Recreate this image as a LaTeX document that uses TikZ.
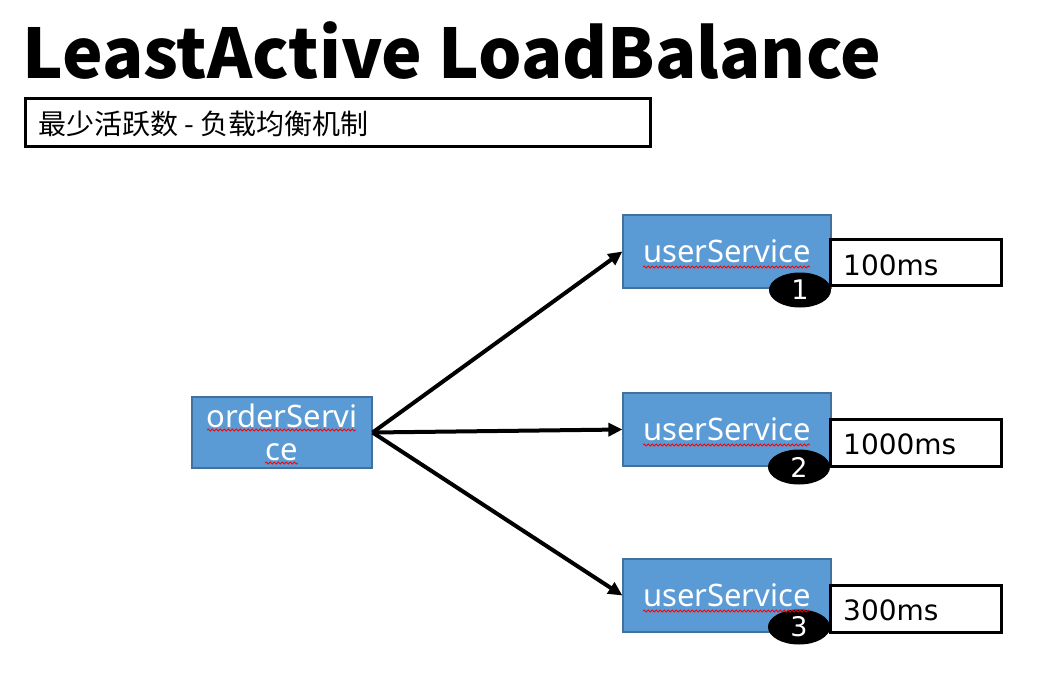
\documentclass[tikz,border=0pt]{standalone}
\usepackage{fontspec}
\setmainfont{DejaVu Sans}
\newfontfamily\cjk{Noto Sans CJK SC}
\newfontfamily\notosans{Noto Sans}
\usetikzlibrary{arrows.meta,shapes.geometric,decorations.pathmorphing}
\definecolor{boxblue}{HTML}{5B9BD5}
\definecolor{boxedge}{HTML}{41719C}
\tikzset{
  svc/.style={draw=boxedge, line width=1.2pt, fill=boxblue, text=white, minimum width=208pt, minimum height=73pt, inner sep=0pt, font=\notosans\fontsize{31}{34}\selectfont},
  lbl/.style={draw=black, line width=3pt, fill=white, minimum width=171pt, minimum height=46pt, inner sep=0pt},
  lbltext/.style={anchor=west, inner sep=0pt, font=\fontsize{28}{30}\selectfont},
  badge/.style={ellipse, draw=black, line width=1pt, fill=black, text=white, minimum width=61pt, minimum height=34pt, inner sep=0pt, font=\fontsize{27}{30}\selectfont},
  conn/.style={line width=4pt, -{Triangle[length=14pt,width=13pt]}},
  squig/.style={red, line width=0.8pt, decorate, decoration={snake, amplitude=1pt, segment length=4pt}}
}
\begin{document}
\begin{tikzpicture}[x=1pt,y=-1pt]
\useasboundingbox (0,0) rectangle (1037,677);
% title
\node[anchor=base west, inner sep=0pt, font=\cjk\bfseries\fontsize{68.5}{70}\selectfont] (title) at (22,78) {LeastActive LoadBalance};
% subtitle
\node[draw=black, line width=3pt, minimum width=625pt, minimum height=47pt, inner sep=0pt] (subbox) at (337.5,122.5) {};
\node[anchor=west, inner sep=0pt, font=\cjk\fontsize{28}{30}\selectfont] (subtext) at (38,124) {最少活跃数 - 负载均衡机制};
% order service
\node[svc, minimum width=180pt, minimum height=71pt] (order) at (282,432.5) {};
\node[anchor=base, inner sep=0pt, text=white, font=\notosans\fontsize{31}{34}\selectfont] (ordt1) at (282,427) {orderServi};
\node[anchor=base, inner sep=0pt, text=white, font=\notosans\fontsize{31}{34}\selectfont] (ordt2) at (282,460) {ce};
% user services
\node[svc] (user1) at (727,251.5) {userService};
\node[svc] (user2) at (727,429.5) {userService};
\node[svc] (user3) at (727,595.5) {userService};
% labels
\node[lbl] (lab1) at (915.5,262) {};
\node[lbl, minimum height=47pt] (lab2) at (915.5,442.5) {};
\node[lbl, minimum height=47pt] (lab3) at (915.5,608.5) {};
\node[lbltext] (lt1) at (843,265) {100ms};
\node[lbltext] (lt2) at (843,444) {1000ms};
\node[lbltext] (lt3) at (843,610) {300ms};
% badges
\node[badge] (b1) at (800,290) {1};
\node[badge] (b2) at (799,467) {2};
\node[badge] (b3) at (799,627) {3};
% connectors
\draw[conn] (order.east) -- (user1.west);
\draw[conn] (order.east) -- (user2.west);
\draw[conn] (order.east) -- (user3.west);
% spell-check squiggles
\draw[squig] (207,430) -- (356,430);
\draw[squig] (265,463) -- (298,463);
\draw[squig] (643,267) -- (810,267);
\draw[squig] (643,445) -- (810,445);
\draw[squig] (643,611) -- (810,611);
\end{tikzpicture}
\end{document}
